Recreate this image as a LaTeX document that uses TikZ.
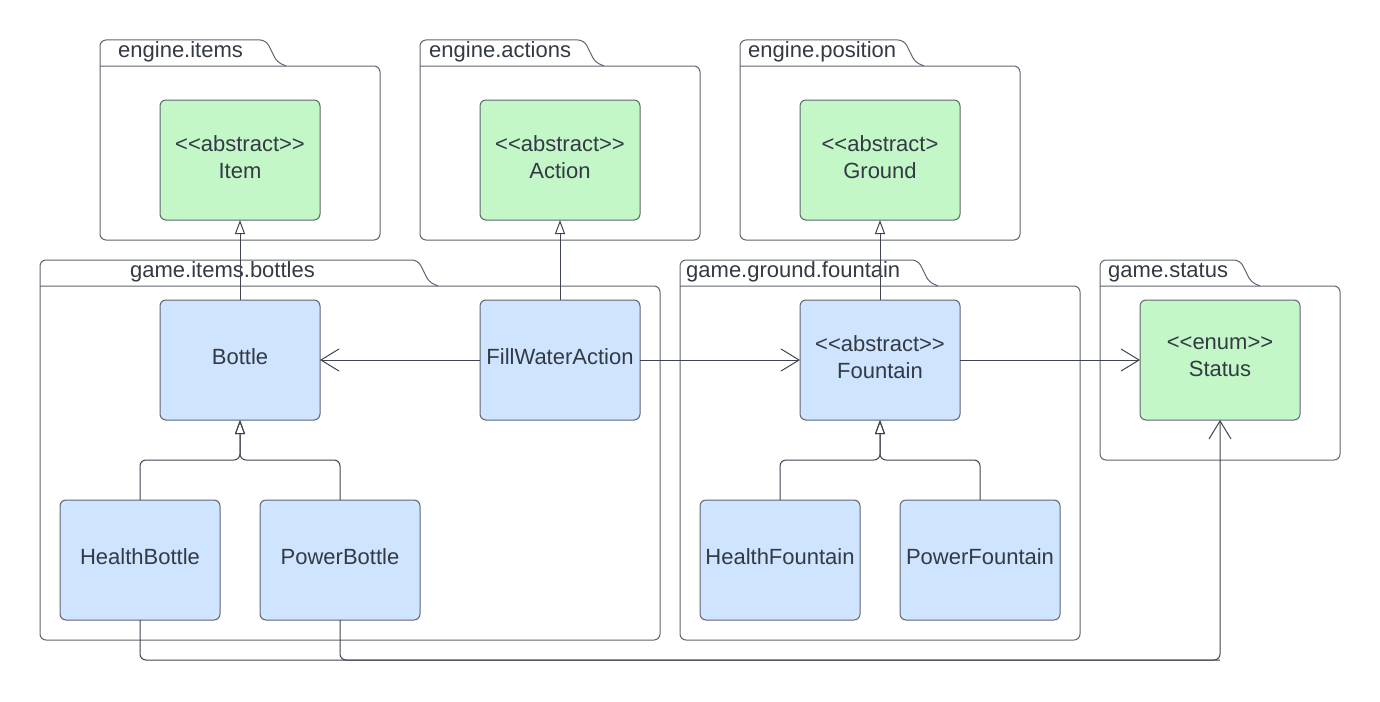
\documentclass[tikz,border=0pt]{standalone}
\usepackage{fontspec}
\setmainfont{Liberation Sans}
\usetikzlibrary{arrows.meta}
\definecolor{clsgreen}{HTML}{C3F7C8}
\definecolor{clsblue}{HTML}{CFE4FF}
\definecolor{edgegray}{HTML}{5E6470}
\definecolor{txtgray}{HTML}{333A44}
\definecolor{linegray}{HTML}{3F4550}
\tikzset{
  cls/.style={draw=edgegray, line width=1pt, rounded corners=6pt, minimum width=160pt, minimum height=120pt,
    inner sep=0pt, outer sep=0pt},
  clstext/.style={align=center, text=txtgray, inner sep=0pt, font=\fontsize{22}{27}\selectfont},
  greencls/.style={cls, fill=clsgreen},
  bluecls/.style={cls, fill=clsblue},
  pkgline/.style={draw=edgegray, line width=1pt},
  pkglabel/.style={anchor=base west, inner sep=0pt, text=txtgray, font=\fontsize{22}{25}\selectfont},
  gen/.style={draw=linegray, line width=1pt, rounded corners=6pt, -{Triangle[open, length=14pt, width=10pt]}},
  assoc/.style={draw=linegray, line width=1pt, rounded corners=6pt, -{Straight Barb[length=18pt, width=22pt]}},
  plainline/.style={draw=linegray, line width=1pt, rounded corners=6pt}
}
% #1 x0, #2 y0 (tab top), #3 x1, #4 y1 (bottom), #5 tab end x
\newcommand{\umlpkg}[5]{%
  \draw[pkgline, rounded corners=6pt] (#1,#2+26) -- (#3,#2+26) -- (#3,#4) -- (#1,#4) -- (#1,#2+26);
  \draw[pkgline] (#1,#2+26) [rounded corners=6pt] -- (#1,#2) -- (#5-14,#2) [rounded corners=5pt] -- (#5-3,#2+22) -- (#5+6,#2+26);
}
% #1 style, #2 name, #3 x, #4 y, #5 text
\newcommand{\umlclass}[5]{%
  \node[#1] (#2) at (#3,#4) {};
  \node[clstext] (#2-txt) at (#3,#4-3) {#5};
}
\begin{document}
\begin{tikzpicture}[x=1pt, y=-1pt]
\useasboundingbox (0,0) rectangle (1380,701);
\fill[white] (0,0) rectangle (1380,701);

% packages
\umlpkg{100}{40}{380}{240}{280}
\node[pkglabel] (lblEI) at (118,57) {engine.items};
\umlpkg{420}{40}{700}{240}{598}
\node[pkglabel] (lblEA) at (429,57) {engine.actions};
\umlpkg{740}{40}{1020}{240}{918}
\node[pkglabel] (lblEP) at (748,57) {engine.position};
\umlpkg{40}{260}{660}{640}{432}
\node[pkglabel] (lblGB) at (130,277) {game.items.bottles};
\umlpkg{680}{260}{1080}{640}{932}
\node[pkglabel] (lblGF) at (686,277) {game.ground.fountain};
\umlpkg{1100}{260}{1340}{460}{1254}
\node[pkglabel] (lblGS) at (1108,277) {game.status};

% classes
\umlclass{greencls}{item}{240}{160}{<{}<abstract>{}>\\Item}
\umlclass{greencls}{action}{560}{160}{<{}<abstract>{}>\\Action}
\umlclass{greencls}{ground}{880}{160}{<{}<abstract>\\Ground}
\umlclass{bluecls}{bottle}{240}{360}{Bottle}
\umlclass{bluecls}{fwa}{560}{360}{FillWaterAction}
\umlclass{bluecls}{fountain}{880}{360}{<{}<abstract>{}>\\Fountain}
\umlclass{greencls}{status}{1220}{360}{<{}<enum>{}>\\Status}
\umlclass{bluecls}{hb}{140}{560}{HealthBottle}
\umlclass{bluecls}{pb}{340}{560}{PowerBottle}
\umlclass{bluecls}{hf}{780}{560}{HealthFountain}
\umlclass{bluecls}{pf}{980}{560}{PowerFountain}

% generalisations
\draw[gen] (bottle.north) -- (item.south);
\draw[gen] (fwa.north) -- (action.south);
\draw[gen] (fountain.north) -- (ground.south);
\draw[gen] (hb.north) -- ++(0,-40) -| (bottle.south);
\draw[gen] (pb.north) -- ++(0,-40) -| (bottle.south);
\draw[gen] (hf.north) -- ++(0,-40) -| (fountain.south);
\draw[gen] (pf.north) -- ++(0,-40) -| (fountain.south);

% associations
\draw[assoc] (fwa.west) -- (bottle.east);
\draw[assoc] (fwa.east) -- (fountain.west);
\draw[assoc] (fountain.east) -- (status.west);
\coordinate (bus) at (1220,660);
\draw[assoc] (hb.south) |- (bus) -- (status.south);
\draw[plainline] (pb.south) |- (bus);
\end{tikzpicture}
\end{document}
